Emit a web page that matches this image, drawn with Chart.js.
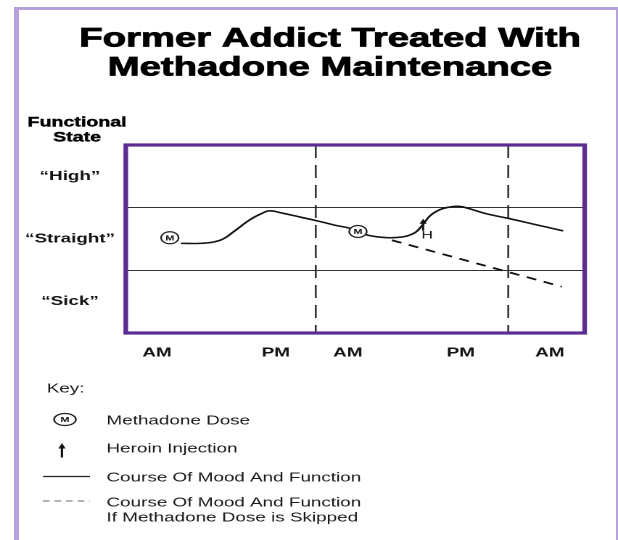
<!DOCTYPE html>
<html><head><meta charset="utf-8">
<script src="https://cdn.jsdelivr.net/npm/chart.js@4/dist/chart.umd.min.js"></script>
<style>
html,body{margin:0;padding:0;background:#fff;width:618px;height:540px;overflow:hidden;}
#frame{position:absolute;left:14px;top:7px;width:604px;height:540px;box-sizing:border-box;border-left:5px solid #b7a1dc;border-top:3px solid #b7a1dc;border-right:2px solid #b7a1dc;}
#wrap{position:absolute;left:0;top:0;width:426px;height:540px;transform:scaleX(1.4507);transform-origin:0 0;}
</style></head><body>
<div id="frame"></div>
<div id="wrap"><canvas id="c" width="426" height="540"></canvas></div>
<script>
// ---- text ----
const titleLines = ['Former Addict Treated With', 'Methadone Maintenance'];
const yAxisTitleLines = ['Functional', 'State'];
const stateLabels = ['\u201CHigh\u201D', '\u201CStraight\u201D', '\u201CSick\u201D'];
const timeTickLabels = ['AM', 'PM', 'AM', 'PM', 'AM'];
const timeTickPositions = [6.8, 32.7, 48.4, 73.0, 92.4];
const dayBreaks = [41.4, 83.35];
const keyTitle = 'Key:';
const keyLabels = ['Methadone Dose', 'Heroin Injection', 'Course Of Mood And Function', 'Course Of Mood And Function', 'If Methadone Dose is Skipped'];

// ---- series (x: time units 0-100, y: state bands Sick=0, Straight=1, High=2) ----
const moodX = [12.0, 16.2, 19.0, 21.2, 23.4, 27.1, 29.7, 31.4, 34.3, 38.0, 41.7, 45.6, 48.9, 50.6, 52.8, 55.4, 57.6, 60.8, 63.0, 64.3, 66.3, 68.5, 70.6, 72.8, 75.0, 78.7, 83.3, 88.7, 95.3];
const moodY = [0.93, 0.93, 0.95, 1.00, 1.11, 1.31, 1.41, 1.45, 1.41, 1.35, 1.29, 1.22, 1.17, 1.12, 1.06, 1.03, 1.02, 1.04, 1.10, 1.19, 1.37, 1.47, 1.51, 1.52, 1.48, 1.40, 1.33, 1.24, 1.13];
const skippedX = [58.0, 95.0];
const skippedY = [0.98, 0.24];
const doseX = [9.6, 50.6];
const doseY = [1.02, 1.12];
const heroinX = [64.8];
const heroinY = [1.22];

const pts = (xs, ys) => xs.map((x, i) => ({x, y: ys[i]}));
const FONT = '"Liberation Sans", Arial, Helvetica, sans-serif';
const INK = '#141414';

function drawArrow(ctx, x, yTop, yBot, headW, headH, shaftW) {
  ctx.beginPath();
  ctx.moveTo(x, yTop);
  ctx.lineTo(x - headW / 2, yTop + headH);
  ctx.lineTo(x + headW / 2, yTop + headH);
  ctx.closePath();
  ctx.fill();
  ctx.fillRect(x - shaftW / 2, yTop + headH - 0.5, shaftW, yBot - yTop - headH + 0.5);
}

const decor = {
  id: 'decor',
  beforeDatasetsDraw(chart) {
    const {ctx, chartArea: a, scales: {x}} = chart;
    ctx.save();
    ctx.strokeStyle = '#333';
    ctx.lineWidth = 1.3;
    ctx.setLineDash([13, 7]);
    dayBreaks.forEach(v => {
      const px = x.getPixelForValue(v);
      ctx.beginPath(); ctx.moveTo(px, a.top); ctx.lineTo(px, a.bottom); ctx.stroke();
    });
    ctx.restore();
  },
  afterDatasetsDraw(chart) {
    const {ctx, chartArea: a} = chart;
    ctx.save();
    const mMeta = chart.getDatasetMeta(0);
    ctx.fillStyle = INK;
    ctx.font = 'bold 7.5px ' + FONT;
    ctx.textAlign = 'center'; ctx.textBaseline = 'middle';
    mMeta.data.forEach(el => ctx.fillText('M', el.x, el.y + 0.5));
    const hMeta = chart.getDatasetMeta(1);
    hMeta.data.forEach(el => {
      drawArrow(ctx, el.x, el.y - 6.5, el.y + 5.5, 5, 5, 1.5);
      ctx.font = '11px ' + FONT;
      ctx.textAlign = 'center'; ctx.textBaseline = 'alphabetic';
      ctx.fillText('H', el.x + 2.8, el.y + 13.5);
    });
    ctx.strokeStyle = '#5b2c92';
    ctx.lineWidth = 3.2;
    ctx.setLineDash([]);
    ctx.strokeRect(a.left, a.top, a.right - a.left, a.bottom - a.top);
    ctx.restore();
  },
  afterDraw(chart) {
    const ctx = chart.ctx;
    ctx.save();
    ctx.fillStyle = '#000';
    ctx.strokeStyle = '#000';
    ctx.textAlign = 'center'; ctx.textBaseline = 'alphabetic';
    ctx.font = 'bold 26.4px ' + FONT;
    ctx.lineWidth = 0.8;
    [46.5, 75.5].forEach((y, i) => { ctx.fillText(titleLines[i], 227.5, y); ctx.strokeText(titleLines[i], 227.5, y); });
    ctx.font = 'bold 13.5px ' + FONT;
    ctx.lineWidth = 0.4;
    [126.7, 141.7].forEach((y, i) => { ctx.fillText(yAxisTitleLines[i], 53.1, y); ctx.strokeText(yAxisTitleLines[i], 53.1, y); });

    ctx.fillStyle = '#1a1a1a';
    ctx.textAlign = 'left';
    ctx.font = '13px ' + FONT;
    ctx.fillText(keyTitle, 32.2, 392.5);
    const tx = 73.4;
    const base = [424.5, 452.5, 481.5, 506.5, 521.5];
    keyLabels.forEach((t, i) => ctx.fillText(t, tx, base[i]));
    ctx.strokeStyle = '#222'; ctx.lineWidth = 1.2;
    ctx.fillStyle = '#fff';
    ctx.beginPath(); ctx.ellipse(44.8, 419.5, 7.5, 6, 0, 0, Math.PI * 2); ctx.fill(); ctx.stroke();
    ctx.fillStyle = INK;
    ctx.font = 'bold 7.5px ' + FONT; ctx.textAlign = 'center'; ctx.textBaseline = 'middle';
    ctx.fillText('M', 44.8, 420);
    drawArrow(ctx, 42.7, 443, 457.5, 5, 5.5, 1.6);
    ctx.strokeStyle = '#222'; ctx.lineWidth = 1.2;
    ctx.beginPath(); ctx.moveTo(29.6, 476.5); ctx.lineTo(62.0, 476.5); ctx.stroke();
    ctx.strokeStyle = '#9a9a9a'; ctx.lineWidth = 1.4; ctx.setLineDash([4.5, 3.5]);
    ctx.beginPath(); ctx.moveTo(29.6, 501); ctx.lineTo(62.0, 501); ctx.stroke();
    ctx.restore();
  }
};

new Chart(document.getElementById('c'), {
  type: 'line',
  data: {
    datasets: [
      { label: 'Methadone Dose', data: pts(doseX, doseY), showLine: false, yAxisID: 'yv', order: 0,
        pointRadius: 6, pointStyle: 'circle', pointBackgroundColor: '#fff', pointBorderColor: '#222', pointBorderWidth: 1.2 },
      { label: 'Heroin Injection', data: pts(heroinX, heroinY), showLine: false, yAxisID: 'yv', order: 1, pointRadius: 0 },
      { label: 'Course Of Mood And Function', data: pts(moodX, moodY), yAxisID: 'yv', order: 2,
        borderColor: INK, borderWidth: 1.6, pointRadius: 0, tension: 0.4, fill: false },
      { label: 'Course Of Mood And Function If Methadone Dose is Skipped', data: pts(skippedX, skippedY), yAxisID: 'yv', order: 3,
        borderColor: INK, borderWidth: 1.8, borderDash: [7, 5.5], pointRadius: 0, fill: false }
    ]
  },
  options: {
    responsive: false,
    devicePixelRatio: 2,
    animation: false,
    layout: { padding: { left: 10, right: 23, top: 145, bottom: 177 } },
    plugins: { legend: { display: false }, tooltip: { enabled: false }, title: { display: false } },
    scales: {
      x: {
        type: 'linear', min: 0, max: 100,
        afterBuildTicks: s => { s.ticks = timeTickPositions.map(v => ({value: v})); },
        afterFit: s => { s.height = 30; },
        ticks: { autoSkip: false, maxRotation: 0, padding: 12, color: INK,
          font: { family: FONT, size: 13, weight: 'bold' },
          callback: (v, i) => timeTickLabels[i] },
        grid: { display: false, drawTicks: false },
        border: { display: false }
      },
      y: {
        type: 'category', labels: stateLabels, position: 'left', offset: true,
        afterFit: s => { s.width = 76.7; },
        ticks: { crossAlign: 'center', padding: 7.4, color: INK, font: { family: FONT, size: 13, weight: 'bold' } },
        grid: { offset: true, drawTicks: false, color: '#333', lineWidth: 1 },
        border: { display: false }
      },
      yv: { type: 'linear', min: -0.5, max: 2.5, display: false }
    }
  },
  plugins: [decor]
});
</script>
</body></html>
